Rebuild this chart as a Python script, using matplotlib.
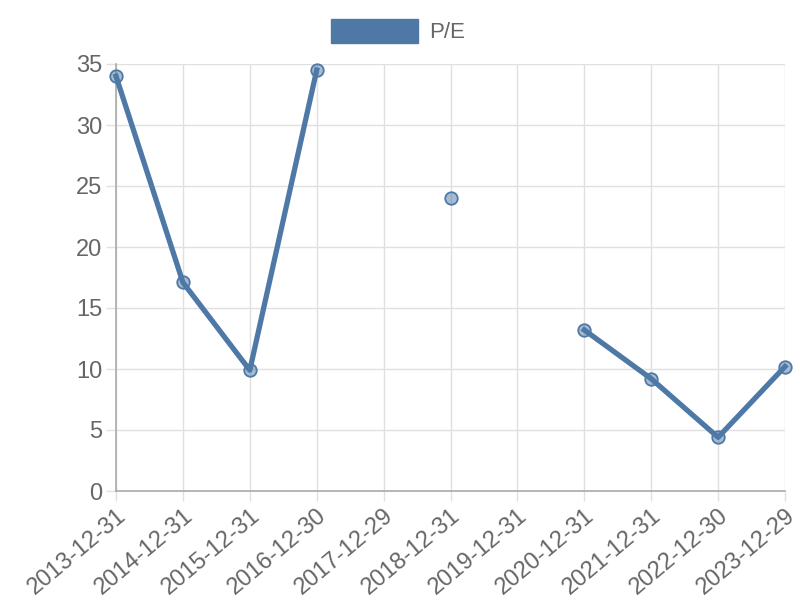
import numpy as np
import matplotlib.pyplot as plt
from matplotlib.patches import Patch

dates = ['2013-12-31', '2014-12-31', '2015-12-31', '2016-12-30', '2017-12-29',
         '2018-12-31', '2019-12-31', '2020-12-31', '2021-12-31', '2022-12-30',
         '2023-12-29']
pe = [34.0, 17.1, 9.9, 34.5, np.nan, 24.0, np.nan, 13.2, 9.2, 4.4, 10.2]

line_color = '#4e79a7'
text_color = '#666666'
grid_color = '#e0e0e0'

plt.rcParams['font.family'] = ['Liberation Sans', 'DejaVu Sans']

fig = plt.figure(figsize=(8, 6), dpi=100)
ax = fig.add_axes([116 / 800, 1 - 491 / 600, (785 - 116) / 800, (491 - 64) / 600])

x = np.arange(len(dates))
ax.plot(x, pe, color=line_color, linewidth=3.8, zorder=3, clip_on=False)
ax.plot(x, pe, linestyle='none', marker='o', markersize=9,
        markerfacecolor=(78 / 255, 121 / 255, 167 / 255, 0.5),
        markeredgecolor=line_color, markeredgewidth=1.3, zorder=4, clip_on=False)

ax.set_xlim(0, len(dates) - 1)
ax.set_ylim(0, 35)
ax.set_xticks(x)
ax.set_xticklabels(dates, rotation=40, ha='right', rotation_mode='anchor')
ax.set_yticks(range(0, 36, 5))

ax.grid(True, color=grid_color, linewidth=1)
ax.set_axisbelow(True)
for side in ['top', 'right']:
    ax.spines[side].set_visible(False)
for side in ['left', 'bottom']:
    ax.spines[side].set_color('#aaaaaa')
    ax.spines[side].set_linewidth(1.2)

ax.tick_params(axis='both', colors=grid_color, labelcolor=text_color,
               labelsize=17, length=7, width=1, pad=3)

fig.legend(handles=[Patch(facecolor=line_color, edgecolor=line_color)], labels=['P/E'],
           loc='center', bbox_to_anchor=(398 / 800, 1 - 31 / 600), frameon=False,
           fontsize=16, labelcolor=text_color, handlelength=3.9, handleheight=1.3,
           handletextpad=0.5)

fig.savefig('out.png', dpi=100)
